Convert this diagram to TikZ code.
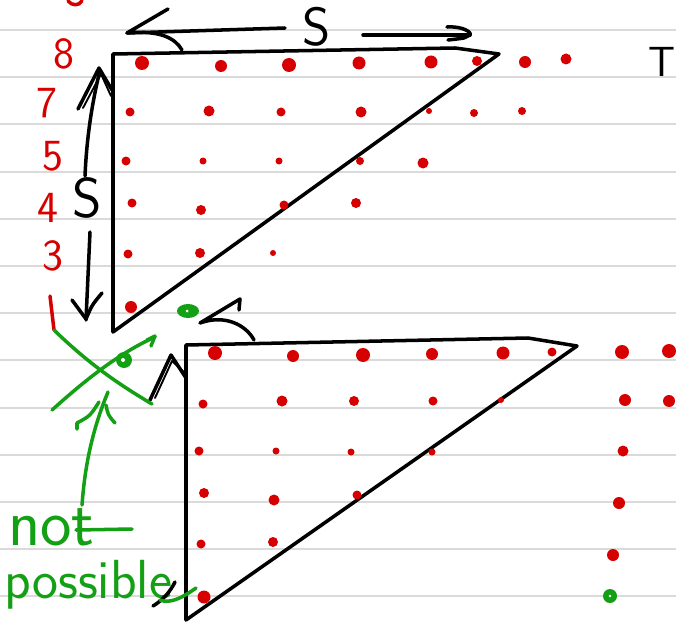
\documentclass[tikz,border=0pt]{standalone}
\usepackage{tikz}
\usetikzlibrary{positioning}
\definecolor{inkred}{RGB}{215,0,0}
\definecolor{inkgreen}{RGB}{20,160,20}
\definecolor{rulegray}{RGB}{218,218,218}

\begin{document}
\begin{tikzpicture}[x=0.03cm, y=-0.03cm, line cap=round, line join=round,
  ink/.style={black, line width=3pt},
  greenink/.style={inkgreen, line width=3pt},
  redink/.style={inkred, line width=3pt},
  rednum/.style={inkred, inner sep=0pt, font=\sffamily\fontsize{38}{38}\selectfont},
  blacklabel/.style={black, inner sep=0pt, font=\sffamily\fontsize{40}{40}\selectfont},
  greenword/.style={inkgreen, inner sep=0pt, anchor=base west},
  ruleline/.style={rulegray, line width=1.6pt}]

\useasboundingbox (0,0) rectangle (676,622);
\clip (0,0) rectangle (676,622);

% ruled paper
\foreach \k in {0,...,12}
  \draw[ruleline] (0,{30+47.2*\k}) -- (676,{30+47.2*\k});

% red row numbers
\draw[redink] (68,1) .. controls (72,6) and (79,6) .. (82,1);
\node[rednum] (num8) at (64,54) {8};
\node[rednum] (num7) at (47,103) {7};
\node[rednum] (num5) at (53,156) {5};
\node[rednum] (num4) at (48,208) {4};
\node[rednum] (num3) at (53,256) {3};
\draw[redink] (50,296) -- (54,330);

% upper triangle
\draw[ink] (113,54) -- (455,48) -- (499,54) -- (113,332) -- cycle;
\foreach \x/\y/\r in {142/63/7, 221/66/6, 289/65/7, 359/63/6.5, 431/62/6.5, 477/61/5,
    525/62/6, 566/59/5.5,
    130/112/4.5, 209/111/5.5, 281/112/4.5, 361/112/5.5, 429/111/3, 474/113/4, 522/111/4,
    126/161/4.5, 203/161/3.5, 279/161/3.5, 360/161/4, 423/163/5.5,
    132/203/4.5, 201/210/5, 284/205/4.5, 356/203/5,
    128/254/4.5, 200/253/5, 273/253/3,
    131/307/6}
  \fill[inkred] (\x,\y) circle[radius=\r];
\fill[inkgreen] (188,311) ellipse[x radius=11, y radius=7];
\fill[white] (187,311) circle[radius=1.5];

% vertical S arrow
\node[blacklabel, font=\sffamily\fontsize{48}{48}\selectfont] (sideS) at (87,198) {S};
\draw[ink] (85,176) .. controls (87,130) and (94,95) .. (100,70);
\draw[ink] (78,109) -- (99,68) -- (112,90);
\draw[ink, line width=1.6pt] (83,108) -- (101,74) -- (111,96);
\draw[ink] (90,232) -- (86,320);
\draw[ink] (72,300) -- (86,319) .. controls (92,305) .. (102,293);

% horizontal S arrow
\node[blacklabel, font=\sffamily\fontsize{46}{46}\selectfont] (topS) at (317,27) {S};
\draw[ink] (285,28) -- (127,33);
\draw[ink] (168,9) -- (127,33) .. controls (160,30) and (175,38) .. (182,50);
\draw[ink] (363,35) -- (470,35);
\draw[ink] (447,27) .. controls (462,26) and (472,32) .. (470,35) .. controls (466,38) .. (448,40);

\node[blacklabel, font=\sffamily\fontsize{36}{36}\selectfont] (labelT) at (662,62) {T};

% lower triangle
\draw[ink] (186,345) -- (528,338) -- (577,346) -- (186,620) -- cycle;
\foreach \x/\y/\r in {215/353/7, 293/356/6, 363/355/7, 432/354/6, 503/353/6.5, 552/352/4.5,
    203/404/4.5, 282/401/5.5, 354/401/5, 433/401/4.5, 501/400/3,
    199/451/4.5, 276/451/3.5, 351/452/3.5, 432/452/3.5,
    204/493/5, 274/500/5.5, 357/495/4.5,
    201/544/4.5, 273/542/5,
    204/597/6.5,
    622/352/7, 669/351/7, 625/400/6, 669/401/6, 623/451/5.5, 619/503/6, 613/555/6}
  \fill[inkred] (\x,\y) circle[radius=\r];
\fill[inkgreen] (610,596) circle[radius=7];
\fill[white] (610,596) circle[radius=1.3];

% shift arrow and corner mark
\draw[ink] (240,299) -- (200,323) .. controls (225,314) and (246,325) .. (254,340);
\draw[ink] (240,299) -- (239,310);
\draw[ink] (150,400) -- (171,355) -- (186,378);
\draw[ink, line width=1.6pt] (155,398) -- (172,361) -- (185,373);

% crossed out move
\draw[greenink] (54,330) .. controls (90,365) and (120,385) .. (152,404);
\draw[greenink] (52,410) .. controls (80,385) and (115,355) .. (155,337);
\draw[greenink] (147,340) -- (155,336) -- (151,346);
\fill[inkgreen] (124,360) circle[radius=8];
\fill[white] (123,360) circle[radius=2];

% note
\draw[greenink] (82,505) .. controls (84,480) and (88,440) .. (108,392);
\draw[greenink] (77,429) -- (77,423) .. controls (90,416) .. (99,402);
\draw[greenink] (106,405) .. controls (108,415) .. (115,423);
\node[greenword, font=\sffamily\fontsize{57}{57}\selectfont] (wordNot) at (8,545) {not};
\draw[greenink] (76,530) -- (132,529);
\node[greenword, font=\sffamily\fontsize{47}{47}\selectfont] (wordPossible) at (4,598) {possible};
\draw[ink] (153,606) .. controls (163,600) and (170,592) .. (175,582);
\draw[greenink] (160,600) .. controls (170,604) and (182,598) .. (196,588);

\end{tikzpicture}
\end{document}
